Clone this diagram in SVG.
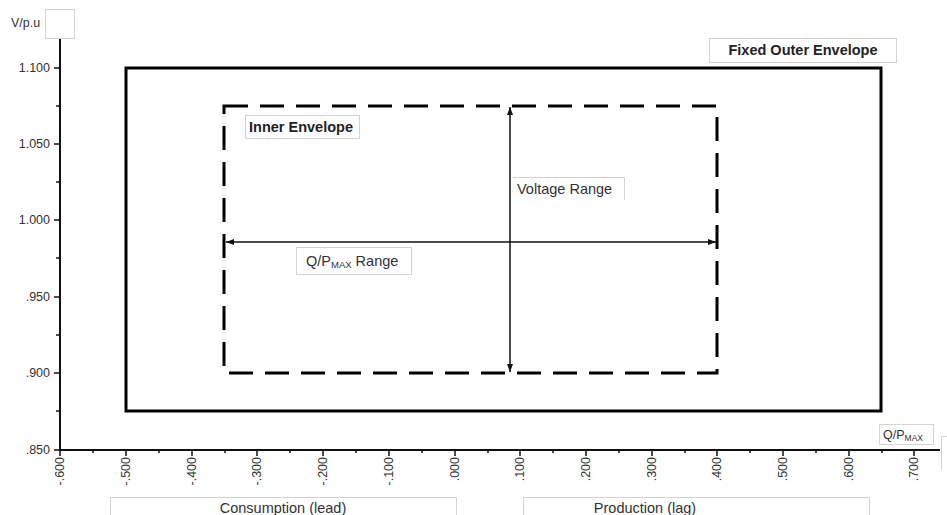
<svg xmlns="http://www.w3.org/2000/svg" width="947" height="515" viewBox="0 0 947 515">
<style>
text{font-family:"Liberation Sans",Arial,sans-serif;fill:#333}
.tk{font-size:12.5px}
.lb{font-size:14.5px}
.b{font-weight:bold;fill:#222}
.box{fill:#fff;stroke:#d4d4d4;stroke-width:1}
.ax{stroke:#111;stroke-width:2;fill:none}
.t{stroke:#111;stroke-width:1.5}
</style>
<defs>
<marker id="ah" markerWidth="8" markerHeight="6" refX="8" refY="3" orient="auto-start-reverse" markerUnits="userSpaceOnUse">
<path d="M0,0 L8,3 L0,6 Z" fill="#111"/>
</marker>
</defs>
<rect width="947" height="515" fill="#fff"/>
<g id="axes">
<line class="ax" x1="60" y1="38" x2="60" y2="451"/>
<line class="ax" x1="59" y1="450" x2="940" y2="450"/>
<g class="t">
<line x1="54" y1="68" x2="60" y2="68"/><line x1="56" y1="106" x2="60" y2="106"/>
<line x1="54" y1="144" x2="60" y2="144"/><line x1="56" y1="182" x2="60" y2="182"/>
<line x1="54" y1="220" x2="60" y2="220"/><line x1="56" y1="258" x2="60" y2="258"/>
<line x1="54" y1="297" x2="60" y2="297"/><line x1="56" y1="335" x2="60" y2="335"/>
<line x1="54" y1="373" x2="60" y2="373"/><line x1="56" y1="411" x2="60" y2="411"/>
<line x1="54" y1="450" x2="60" y2="450"/>
<line x1="60" y1="450" x2="60" y2="456"/><line x1="93" y1="450" x2="93" y2="453"/>
<line x1="126" y1="450" x2="126" y2="456"/><line x1="159" y1="450" x2="159" y2="453"/>
<line x1="192" y1="450" x2="192" y2="456"/><line x1="225" y1="450" x2="225" y2="453"/>
<line x1="257" y1="450" x2="257" y2="456"/><line x1="290" y1="450" x2="290" y2="453"/>
<line x1="323" y1="450" x2="323" y2="456"/><line x1="356" y1="450" x2="356" y2="453"/>
<line x1="389" y1="450" x2="389" y2="456"/><line x1="422" y1="450" x2="422" y2="453"/>
<line x1="455" y1="450" x2="455" y2="456"/><line x1="488" y1="450" x2="488" y2="453"/>
<line x1="520" y1="450" x2="520" y2="456"/><line x1="553" y1="450" x2="553" y2="453"/>
<line x1="586" y1="450" x2="586" y2="456"/><line x1="619" y1="450" x2="619" y2="453"/>
<line x1="652" y1="450" x2="652" y2="456"/><line x1="685" y1="450" x2="685" y2="453"/>
<line x1="717" y1="450" x2="717" y2="456"/><line x1="750" y1="450" x2="750" y2="453"/>
<line x1="783" y1="450" x2="783" y2="456"/><line x1="816" y1="450" x2="816" y2="453"/>
<line x1="849" y1="450" x2="849" y2="456"/><line x1="882" y1="450" x2="882" y2="453"/>
<line x1="914" y1="450" x2="914" y2="456"/>
</g>
<g class="tk" text-anchor="end">
<text x="50" y="72">1.100</text>
<text x="50" y="148">1.050</text>
<text x="50" y="224">1.000</text>
<text x="50" y="301">.950</text>
<text x="50" y="377">.900</text>
<text x="50" y="454">.850</text>
</g>
<g class="tk" text-anchor="end">
<text transform="translate(64,457) rotate(-90)">-.600</text>
<text transform="translate(130,457) rotate(-90)">-.500</text>
<text transform="translate(196,457) rotate(-90)">-.400</text>
<text transform="translate(261,457) rotate(-90)">-.300</text>
<text transform="translate(327,457) rotate(-90)">-.200</text>
<text transform="translate(393,457) rotate(-90)">-.100</text>
<text transform="translate(459,457) rotate(-90)">.000</text>
<text transform="translate(524,457) rotate(-90)">.100</text>
<text transform="translate(590,457) rotate(-90)">.200</text>
<text transform="translate(656,457) rotate(-90)">.300</text>
<text transform="translate(721,457) rotate(-90)">.400</text>
<text transform="translate(787,457) rotate(-90)">.500</text>
<text transform="translate(853,457) rotate(-90)">.600</text>
<text transform="translate(918,457) rotate(-90)">.700</text>
</g>
</g>
<g id="y-title">
<text class="tk" x="11" y="27" font-size="13.5">V/p.u</text>
<rect class="box" x="45.500" y="9.500" width="29" height="29"/>
</g>
<g id="x-title">
<rect class="box" x="879.500" y="424.500" width="54" height="20"/>
<text class="tk" x="883" y="439" font-size="13">Q/P<tspan font-size="8.500" dy="2">MAX</tspan></text>
<path d="M947,436.500 H941.500 V470" fill="none" stroke="#d4d4d4"/>
</g>
<g id="outer-envelope">
<rect x="126" y="68" width="755" height="343" fill="none" stroke="#000" stroke-width="3"/>
</g>
<g id="inner-envelope">
<rect x="224" y="106" width="493" height="267" fill="none" stroke="#000" stroke-width="3" stroke-dasharray="24 12"/>
</g>
<g id="connectors">
<line x1="510" y1="107" x2="510" y2="372" stroke="#111" stroke-width="1.5" marker-start="url(#ah)" marker-end="url(#ah)"/>
<line x1="226" y1="242" x2="716" y2="242" stroke="#111" stroke-width="1.5" marker-start="url(#ah)" marker-end="url(#ah)"/>
</g>
<g id="label-fixed-outer">
<rect class="box" x="709.500" y="38.500" width="187" height="24"/>
<text class="lb b" x="803" y="55" text-anchor="middle">Fixed Outer Envelope</text>
</g>
<g id="label-inner">
<rect class="box" x="245.500" y="115.500" width="114" height="23"/>
<text class="lb b" x="249" y="132">Inner Envelope</text>
</g>
<g id="label-voltage-range">
<path d="M513,177.500 H624.500 V200" fill="none" stroke="#d4d4d4"/>
<text class="lb" x="517" y="194">Voltage Range</text>
</g>
<g id="label-q-range">
<rect class="box" x="296.500" y="247.500" width="115" height="27"/>
<text class="lb" x="306" y="266">Q/P<tspan font-size="9.500" dy="2">MAX</tspan><tspan dy="-2"> Range</tspan></text>
</g>
<g id="label-consumption">
<path d="M110.500,515 V497.500 H456.500 V515" fill="none" stroke="#d4d4d4"/>
<text class="lb" x="283" y="513" text-anchor="middle">Consumption (lead)</text>
</g>
<g id="label-production">
<path d="M523.500,515 V497.500 H869.500 V515" fill="none" stroke="#d4d4d4"/>
<text class="lb" x="645" y="513" text-anchor="middle">Production (lag)</text>
</g>
</svg>
